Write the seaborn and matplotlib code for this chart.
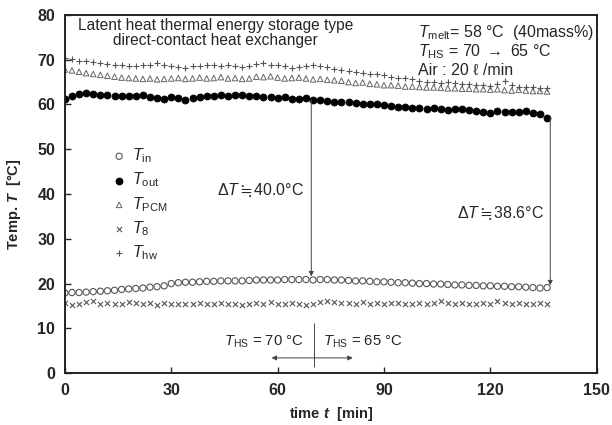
import matplotlib
matplotlib.use("Agg")
import matplotlib.pyplot as plt
import seaborn as sns
import pandas as pd

# sampling times [min]
time_min = [0, 2, 4, 6, 8, 10, 12, 14, 16, 18,
            20, 22, 24, 26, 28, 30, 32, 34, 36, 38,
            40, 42, 44, 46, 48, 50, 52, 54, 56, 58,
            60, 62, 64, 66, 68, 70, 72, 74, 76, 78,
            80, 82, 84, 86, 88, 90, 92, 94, 96, 98,
            100, 102, 104, 106, 108, 110, 112, 114, 116, 118,
            120, 122, 124, 126, 128, 130, 132, 134, 136]

t_in = [17.9, 18.0, 18.0, 18.1, 18.2, 18.3, 18.4, 18.5, 18.7, 18.8,
        18.9, 19.0, 19.2, 19.3, 19.5, 20.0, 20.2, 20.3, 20.3, 20.4,
        20.5, 20.5, 20.6, 20.6, 20.6, 20.6, 20.7, 20.8, 20.8, 20.8,
        20.8, 20.9, 20.9, 20.9, 20.9, 20.8, 20.9, 20.9, 20.8, 20.8,
        20.7, 20.6, 20.6, 20.5, 20.4, 20.4, 20.3, 20.2, 20.2, 20.1,
        20.0, 20.0, 19.9, 19.9, 19.8, 19.7, 19.7, 19.6, 19.6, 19.5,
        19.5, 19.4, 19.4, 19.3, 19.3, 19.2, 19.1, 19.0, 19.1]

t_out = [61.3, 61.8, 62.3, 62.6, 62.4, 62.2, 62.0, 61.9, 61.8, 61.8,
         61.9, 62.1, 61.6, 61.5, 61.3, 61.6, 61.4, 61.1, 61.5, 61.6,
         61.8, 61.9, 62.0, 61.8, 62.1, 62.2, 61.9, 61.8, 61.7, 61.6,
         61.5, 61.6, 61.3, 61.2, 61.4, 61.0, 61.0, 60.8, 60.6, 60.5,
         60.6, 60.3, 60.2, 60.2, 60.0, 59.8, 59.6, 59.4, 59.4, 59.3,
         59.3, 59.0, 59.1, 59.0, 58.8, 59.0, 58.9, 58.7, 58.6, 58.4,
         58.2, 58.5, 58.3, 58.4, 58.3, 58.5, 58.0, 57.9, 57.0]

t_pcm = [67.8, 67.6, 67.3, 67.0, 66.8, 66.6, 66.4, 66.2, 66.0, 65.9,
         65.8, 65.7, 65.8, 65.6, 65.7, 65.8, 65.9, 65.7, 65.8, 66.0,
         65.8, 65.9, 66.1, 65.8, 65.9, 65.7, 65.8, 66.2, 66.1, 66.3,
         66.0, 65.8, 65.9, 66.0, 65.8, 65.6, 65.7, 65.5, 65.4, 65.3,
         65.0, 64.8, 64.9, 64.6, 64.5, 64.3, 64.3, 64.2, 64.0, 64.0,
         63.9, 63.8, 63.8, 63.7, 63.6, 63.6, 63.5, 63.5, 63.4, 63.4,
         63.3, 63.4, 63.2, 63.1, 63.3, 63.1, 63.0, 63.0, 62.9]

t_8 = [15.6, 15.3, 15.4, 15.8, 16.2, 15.5, 15.6, 15.5, 15.4, 15.9,
       15.6, 15.4, 15.7, 15.3, 15.6, 15.5, 15.5, 15.4, 15.5, 15.6,
       15.5, 15.4, 15.6, 15.5, 15.4, 15.3, 15.5, 15.7, 15.5, 15.8,
       15.4, 15.5, 15.7, 15.4, 15.3, 15.5, 15.9, 16.1, 15.8, 15.7,
       15.6, 15.5, 15.9, 15.4, 15.6, 15.5, 15.7, 15.6, 15.4, 15.5,
       15.6, 15.5, 15.7, 16.2, 15.6, 15.5, 15.6, 15.4, 15.5, 15.6,
       15.5, 16.1, 15.6, 15.5, 15.6, 15.4, 15.5, 15.6, 15.5]

t_hw = [70.4, 70.1, 69.8, 69.6, 69.5, 69.3, 69.0, 68.8, 68.7, 68.6,
        68.5, 68.8, 68.7, 69.2, 68.9, 68.6, 68.4, 68.2, 68.5, 68.6,
        68.8, 68.9, 68.6, 68.7, 68.5, 68.3, 68.6, 69.0, 69.3, 68.9,
        68.7, 68.5, 68.2, 68.4, 68.6, 68.9, 68.6, 68.3, 68.0, 67.8,
        67.5, 67.3, 67.1, 66.9, 66.7, 66.5, 66.2, 66.0, 65.8, 65.6,
        65.3, 65.1, 64.9, 64.8, 64.9, 64.7, 64.6, 64.5, 64.4, 64.3,
        64.2, 64.5, 65.2, 64.3, 64.0, 63.9, 63.8, 63.7, 63.6]

x_ticks = [0, 30, 60, 90, 120, 150]
y_ticks = [0, 10, 20, 30, 40, 50, 60, 70, 80]

df = pd.DataFrame({"time": time_min, "Tin": t_in, "Tout": t_out,
                   "Tpcm": t_pcm, "T8": t_8, "Thw": t_hw})

sns.set_style("ticks")
plt.rcParams["font.family"] = ["Liberation Sans", "DejaVu Sans"]
plt.rcParams["mathtext.fontset"] = "custom"
plt.rcParams["mathtext.rm"] = "Liberation Sans"
plt.rcParams["mathtext.it"] = "Liberation Sans:italic"
plt.rcParams["mathtext.bf"] = "Liberation Sans:bold"
plt.rcParams["mathtext.bfit"] = "Liberation Sans:italic:bold"
plt.rcParams["mathtext.fallback"] = "stixsans"

fig = plt.figure(figsize=(6.12, 4.25), dpi=100)
ax = fig.add_axes([0.106, 0.122, 0.869, 0.843])

series = [
    ("Tin", r"$T_{\mathrm{in}}$", "o", dict(s=20, facecolor="none", edgecolor="#555555", linewidth=0.8)),
    ("Tout", r"$T_{\mathrm{out}}$", "o", dict(s=26, color="black", edgecolor="black", linewidth=0.5)),
    ("Tpcm", r"$T_{\mathrm{PCM}}$", "^", dict(s=16, facecolor="none", edgecolor="#666666", linewidth=0.7)),
    ("T8", r"$T_{8}$", "x", dict(s=14, color="#555555", linewidth=0.8)),
    ("Thw", r"$T_{\mathrm{hw}}$", "+", dict(s=18, color="#555555", linewidth=0.8)),
]
for col, label, marker, kw in series:
    sns.scatterplot(data=df, x="time", y=col, marker=marker, label=label, ax=ax, **kw)

ax.set_xlim(0, 150)
ax.set_ylim(0, 80)
ax.set_xticks(x_ticks)
ax.set_yticks(y_ticks)
ax.tick_params(direction="in", length=4, width=1.0, labelsize=11.5, pad=7)
for lbl in ax.get_xticklabels() + ax.get_yticklabels():
    lbl.set_fontweight("bold")
for sp in ax.spines.values():
    sp.set_linewidth(1.4)
    sp.set_color("#222222")

ax.set_xlabel(r"time $\mathbfit{t}$  [min]", fontweight="bold", fontsize=10.5)
ax.set_ylabel(r"Temp. $\mathbfit{T}$  [°C]", fontweight="bold", fontsize=10.5)
ax.xaxis.set_label_coords(0.5, -0.088)
ax.yaxis.set_label_coords(-0.078, 0.47)

leg = ax.legend(loc="upper left", bbox_to_anchor=(0.072, 0.655), frameon=False,
                fontsize=11.5, handletextpad=0.3, handlelength=1.0,
                labelspacing=0.35, borderpad=0)

ax.text(42.5, 79.4, "Latent heat thermal energy storage type\ndirect-contact heat exchanger",
        ha="center", va="top", fontsize=11.2, linespacing=1.05)
ax.text(99.5, 76.0, r"$T_{\mathrm{melt}}$= 58 °C  (40mass%)", ha="left", va="center", fontsize=11.5)
ax.text(99.5, 71.7, r"$T_{\mathrm{HS}}$ = 70 $\rightarrow$ 65 °C", ha="left", va="center", fontsize=11.5)
ax.text(99.5, 67.6, "Air : 20 ℓ /min", ha="left", va="center", fontsize=11.5)

arrow_kw = dict(arrowstyle="-|>", color="#444444", lw=0.7, mutation_scale=7, shrinkA=0, shrinkB=0)
ax.annotate("", xy=(69.5, 21.6), xytext=(69.5, 61.0), arrowprops=arrow_kw)
ax.annotate("", xy=(136.9, 19.6), xytext=(136.9, 57.3), arrowprops=arrow_kw)
ax.text(43.0, 40.9, r"$\Delta T\fallingdotseq$40.0°C", ha="left", va="center", fontsize=11.5)
ax.text(110.5, 35.8, r"$\Delta T\fallingdotseq$38.6°C", ha="left", va="center", fontsize=11.5)

ax.vlines(70.3, 1.3, 11.3, color="#444444", lw=0.7)
ax.annotate("", xy=(58.3, 3.4), xytext=(70.3, 3.4), arrowprops=arrow_kw)
ax.annotate("", xy=(81.2, 3.4), xytext=(70.3, 3.4), arrowprops=arrow_kw)
ax.text(44.8, 6.9, r"$T_{\mathrm{HS}}$ = 70 °C", ha="left", va="center", fontsize=10.7)
ax.text(72.7, 6.9, r"$T_{\mathrm{HS}}$ = 65 °C", ha="left", va="center", fontsize=10.7)

fig.savefig("out.png", dpi=100)
